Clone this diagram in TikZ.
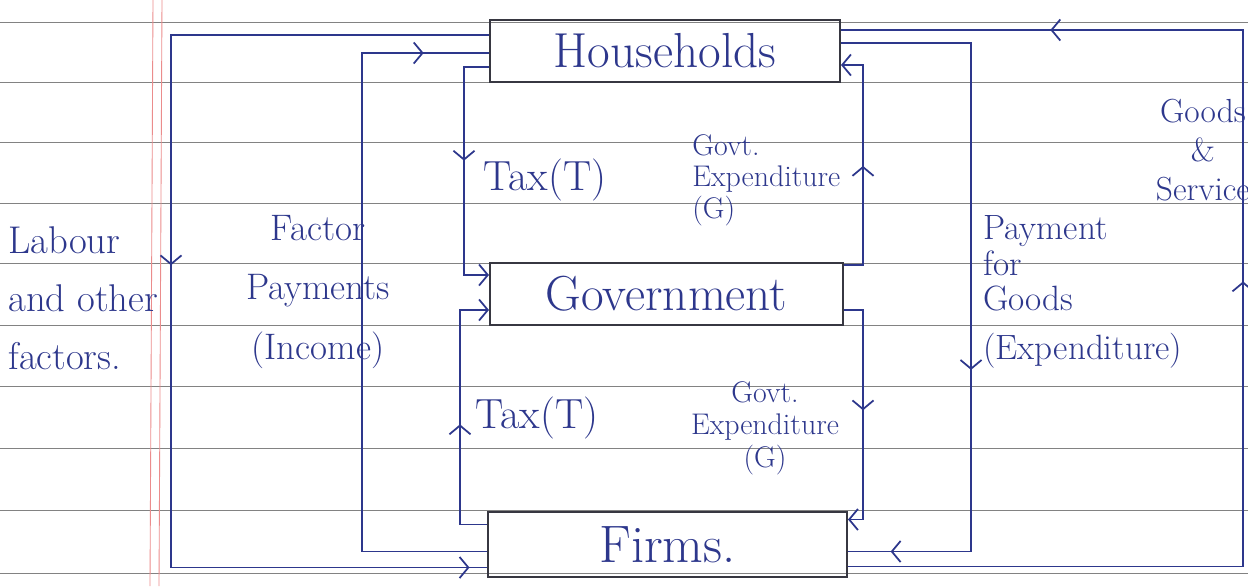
\documentclass[tikz,border=0pt]{standalone}
\usetikzlibrary{arrows.meta,decorations.markings,calc}
\definecolor{ink}{RGB}{45,55,140}
\definecolor{boxc}{RGB}{55,55,65}
\definecolor{rulec}{RGB}{130,130,130}
\definecolor{marginc}{RGB}{235,140,140}
\tikzset{
 flow/.style={ink, line width=1pt},
 blk/.style={draw=boxc, line width=1.2pt, inner sep=0, text=ink},
 mk/.style={postaction={decorate,decoration={markings,mark=at position #1 with {\arrow{Straight Barb[length=5pt,width=12pt,line width=1pt]}}}}},
 endtip/.style={-{Straight Barb[length=5pt,width=12pt,line width=1pt]}},
 lbl/.style={text=ink, inner sep=0},
}
\begin{document}
\begin{tikzpicture}[x=0.02cm,y=-0.02cm]
\useasboundingbox (0,0) rectangle (1248,586);
% ruled paper
\foreach \yy in {22,82,142,203,263,325,386,448,510,573}
  \draw[rulec, line width=0.45pt] (0,\yy) -- (1248,\yy);
\draw[marginc, line width=0.5pt] (153,0) -- (150,586);
\draw[marginc, line width=0.5pt] (162,0) -- (159,586);
% boxes
\node[blk, minimum width=7cm, minimum height=1.24cm] (hh) at (665,51)
  {\fontsize{28}{30}\selectfont Households};
\node[blk, minimum width=7.06cm, minimum height=1.24cm] (gov) at (666.5,294)
  {\fontsize{28}{30}\selectfont Government};
\node[blk, minimum width=7.18cm, minimum height=1.3cm] (firms) at (667.5,544.5)
  {\fontsize{30}{32}\selectfont Firms.};
% flows
\draw[flow, mk=0.47, mk=0.985] ($(hh.west)+(0,-16)$) -- ++(-318,0) |- ($(firms.west)+(0,23)$);
\draw[flow, mk=0.913] ($(firms.west)+(0,7)$) -- ++(-125,0) |- ($(hh.west)+(0,2)$);
\draw[flow, endtip, mk=0.46] ($(hh.west)+(0,16)$) -- ++(-25,0) |- ($(gov.west)+(0,-19)$);
\draw[flow, endtip, mk=0.47] ($(firms.west)+(0,-20)$) -- ++(-27,0) |- ($(gov.west)+(0,16)$);
\draw[flow, endtip, mk=0.49] ($(gov.east)+(0,-29)$) -- ++(19,0) |- ($(hh.east)+(0,14)$);
\draw[flow, endtip, mk=0.49] ($(gov.east)+(0,16)$) -- ++(19,0) |- ($(firms.east)+(0,-25)$);
\draw[flow, mk=0.6, mk=0.944] ($(hh.east)+(0,-8)$) -- ++(130,0) |- ($(firms.east)+(0,7)$);
\draw[flow, mk=0.51, mk=0.843] ($(firms.east)+(0,22)$) -- ++(395,0) |- ($(hh.east)+(0,-21)$);
% labels
\node[lbl, anchor=west, align=left, font=\fontsize{22}{33}\selectfont] (lab) at (8,298) {Labour\\and other\\factors.};
\node[lbl, align=center, font=\fontsize{21}{34}\selectfont] (fp) at (318,292) {Factor\\Payments\\(Income)};
\node[lbl, font=\fontsize{24}{26}\selectfont] (t1) at (545,180) {Tax(T)};
\node[lbl, font=\fontsize{24}{26}\selectfont] (t2) at (537,418) {Tax(T)};
\node[lbl, anchor=west, align=left, font=\fontsize{17}{18}\selectfont] (g1) at (692,180) {Govt.\\Expenditure\\(G)};
\node[lbl, align=center, font=\fontsize{17}{18.5}\selectfont] (g2) at (765,428) {Govt.\\Expenditure\\(G)};
\node[lbl, anchor=west, align=left, font=\fontsize{20}{20}\selectfont] (pg) at (983,292) {Payment\\for\\Goods\\[8pt](Expenditure)};
\node[lbl, align=center, font=\fontsize{19}{22}\selectfont] (gs) at (1203,150) {Goods\\\&\\Service};
\end{tikzpicture}
\end{document}
